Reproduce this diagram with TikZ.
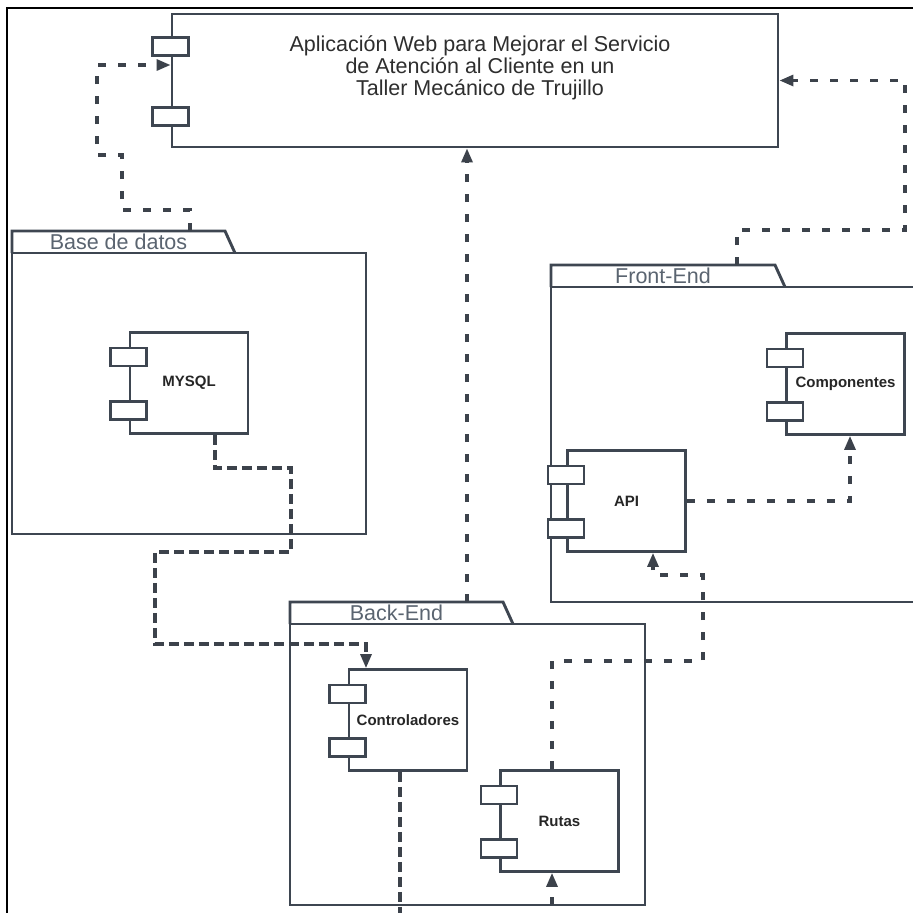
\documentclass[tikz,border=0pt]{standalone}
\usepackage{fontspec}
\setmainfont{Liberation Sans}
\usetikzlibrary{calc,arrows.meta,positioning}
\definecolor{umlline}{HTML}{3E4651}
\definecolor{pkgtext}{HTML}{5A6470}
\definecolor{depclr}{HTML}{3C424B}
\definecolor{titleclr}{HTML}{2E2E2E}
\newcommand{\compports}[1]{%
  \node[port] (#1p1) at ($(#1.north west)!0.25!(#1.south west)$) {};%
  \node[port] (#1p2) at ($(#1.north west)!0.765!(#1.south west)$) {};}

\begin{document}
\begin{tikzpicture}[x=1pt,y=-1pt,
  pkgline/.style={draw=umlline,line width=2.9pt,line join=miter},
  pkg/.style={pkgline,fill=white,inner sep=0pt,outer sep=0pt},
  tab/.style={inner sep=0pt,outer sep=0pt,minimum height=22pt,anchor=south west,text=pkgtext,font=\fontsize{21.5}{22}\selectfont},
  appbox/.style={draw=umlline,line width=2.9pt,fill=white,minimum width=606pt,minimum height=133pt},
  title/.style={align=center,text=titleclr,font=\fontsize{21.5}{22}\selectfont},
  comp/.style={draw=umlline,line width=2.8pt,fill=white,minimum width=118pt,minimum height=101pt,font=\bfseries\fontsize{15}{18}\selectfont,text=black!85},
  port/.style={draw=umlline,line width=2.5pt,fill=white,minimum width=36pt,minimum height=18pt,inner sep=0pt},
  dep/.style={draw=depclr,line width=3.1pt,dash pattern=on 8pt off 12pt},
  depdense/.style={dep,dash pattern=on 10pt off 5pt},
  arr/.style={-{Triangle[length=14pt,width=11pt]}}
]
\useasboundingbox (0,0) rectangle (913,913);
\draw[black,line width=2pt] (6.5,920) -- (6.5,7.5) -- (920,7.5);

\node[appbox] (app) at (475,80.5) {};
\node[title] (apptitle) at (480,68) {Aplicación Web para Mejorar el Servicio\\de Atención al Cliente en un\\Taller Mecánico de Trujillo};
\compports{app}

\node[pkg,minimum width=354pt,minimum height=281pt] (bd) at (189,393.5) {};
\node[tab,minimum width=213pt] (bdtab) at (bd.north west) {Base de datos};
\draw[pkgline] (bdtab.south west) -- (bdtab.north west) -- (bdtab.north east) -- ([xshift=10pt]bdtab.south east);

\node[pkg,minimum width=380pt,minimum height=315pt] (fe) at (741,444.5) {};
\node[tab,minimum width=224pt] (fetab) at (fe.north west) {Front-End};
\draw[pkgline] (fetab.south west) -- (fetab.north west) -- (fetab.north east) -- ([xshift=10pt]fetab.south east);

\node[pkg,minimum width=355pt,minimum height=281pt] (be) at (467.5,764.5) {};
\node[tab,minimum width=213pt] (betab) at (be.north west) {Back-End};
\draw[pkgline] (betab.south west) -- (betab.north west) -- (betab.north east) -- ([xshift=10pt]betab.south east);

\node[comp] (mysql) at (189,383) {MYSQL};
\compports{mysql}
\node[comp] (comps) at (845.5,384) {Componentes};
\compports{comps}
\node[comp] (api) at (626.5,501) {API};
\compports{api}
\node[comp] (ctrl) at (408,720) {Controladores};
\compports{ctrl}
\node[comp] (rutas) at (559.5,821) {Rutas};
\compports{rutas}

\coordinate (bdout) at ([xshift=71.5pt]bdtab.north);
\coordinate (feout) at ([xshift=74pt]fetab.north);
\coordinate (beout) at ([xshift=70.5pt]betab.north);
\coordinate (ctrlend) at (400,925);
\coordinate (rutbeg) at (552,925);

\draw[dep,arr] (bdout) |- (122,210) |- (97,155) |- ([yshift=15.5pt]app.west);
\draw[dep,arr] (feout) |- (905,230) |- (app.east);
\draw[dep,arr] (beout) -- (beout |- app.south);
\draw[depdense,arr] ([xshift=26pt]mysql.south) |- (291,468) |- (155,552) |- (366,644) -- ([xshift=-42pt]ctrl.north);
\draw[dep,arr] (api.east) -| ([xshift=4.5pt]comps.south);
\draw[dep,arr] ([xshift=-7.5pt]rutas.north) |- (703,661) |- (653,575) -- ([xshift=26.5pt]api.south);
\draw[depdense] ([xshift=-8pt]ctrl.south) -- (ctrlend);
\draw[dep,arr] (rutbeg) -- ([xshift=-7.5pt]rutas.south);
\end{tikzpicture}
\end{document}
